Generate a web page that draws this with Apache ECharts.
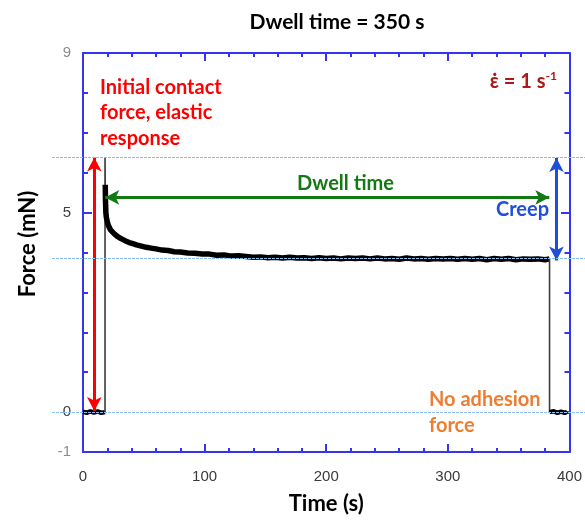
<!DOCTYPE html>
<html><head><meta charset="utf-8">
<script src="https://cdn.jsdelivr.net/npm/echarts@6/dist/echarts.min.js"></script>
<style>html,body{margin:0;padding:0;background:#fff}#c{width:585px;height:520px}</style>
</head><body><div id="c"></div>
<script>
// ---- data ----
const xTickLabels = [0, 100, 200, 300, 400];
const yTickLabels = [-1, 0, 5, 9];
const yMajorTicks = [0, 5];
const approachTime = [0, 3, 6, 9, 12, 15, 18.1];
const approachForce = [0.01, -0.02, 0.02, -0.01, 0.02, -0.02, 0.0];
const loadTime = [18.1, 18.1, 18.3];
const loadForce = [0, 6.39, 5.70];
const dwellTime = [18.3,18.5,18.8,19.2,19.8,20.6,21.6,22.8,24.2,26,28,30,32.5,35,38,41,44,48,52,56,60,65,70,75,80,86,92,98,104,110,116,122,128,134,140,146,152,158,164,170,176,182,188,194,200,206,212,218,224,230,236,242,248,254,260,266,272,278,284,290,296,302,308,314,320,326,332,338,344,350,356,362,368,374,380,383.6];
const dwellForce = [5.70,5.30,5.00,4.88,4.80,4.70,4.63,4.56,4.51,4.46,4.41,4.37,4.33,4.29,4.25,4.22,4.19,4.16,4.13,4.11,4.09,4.06,4.05,4.02,4.01,3.99,3.98,3.96,3.96,3.93,3.94,3.91,3.92,3.90,3.88,3.89,3.87,3.88,3.86,3.88,3.86,3.87,3.85,3.87,3.85,3.86,3.84,3.86,3.85,3.86,3.84,3.86,3.84,3.85,3.83,3.86,3.84,3.85,3.83,3.85,3.84,3.85,3.83,3.85,3.83,3.85,3.82,3.85,3.83,3.85,3.82,3.84,3.83,3.84,3.82,3.84];
const unloadTime = [383.6, 383.6];
const unloadForce = [3.84, 0];
const retractTime = [383.6, 387, 390, 393, 396, 398];
const retractForce = [0, 0.02, -0.02, 0.01, -0.02, 0.01];
const refLevels = [6.39, 3.85, 0];
const contactArrow = [[9.3, 6.38], [9.3, 0.03]];
const dwellArrow = [[18.3, 5.38], [383.4, 5.38]];
const creepArrow = [[389.3, 6.37], [389.3, 3.80]];

// ---- helpers ----
const zip = (a, b) => a.map((v, i) => [v, b[i]]);
const AXIS = '#3535F0';
const FONT = 'Lato, "Open Sans", sans-serif';
const LABEL_FONT = '"Liberation Sans", Arial, sans-serif';

function lineSeries(name, t, f, color, width) {
  return { name, type: 'line', data: zip(t, f), symbol: 'none', showSymbol: false,
    lineStyle: { color, width }, clip: false, animation: false, silent: true, z: 3 };
}
function arrow(pts, color) {
  return [{ coord: pts[0], lineStyle: { color, width: 3, type: 'solid' } }, { coord: pts[1] }];
}

const chart = echarts.init(document.getElementById('c'), null, { renderer: 'canvas' });

const gridRect = { left: 83, right: 15, top: 53, bottom: 67, containLabel: false };
const baseX = { type: 'value', min: 0, max: 400, interval: 100, splitLine: { show: false } };
const baseY = { type: 'value', min: -1, max: 9, interval: 1, splitLine: { show: false } };
const axisLine = { show: true, onZero: false, lineStyle: { color: AXIS, width: 2 } };
const tickStyle = { color: AXIS, width: 2 };

const option = {
  backgroundColor: '#fff',
  animation: false,
  grid: [Object.assign({}, gridRect), Object.assign({}, gridRect)],
  xAxis: [
    Object.assign({}, baseX, {
      gridIndex: 0, position: 'bottom', axisLine,
      axisTick: { inside: true, length: 8, lineStyle: tickStyle },
      minorTick: { show: true, splitNumber: 5, length: 4, lineStyle: tickStyle },
      axisLabel: { color: '#3a3a3a', fontSize: 15, fontFamily: LABEL_FONT, margin: 17,
        formatter: v => xTickLabels.includes(v) ? String(v) : '' },
      name: 'Time (s)', nameLocation: 'middle', nameGap: 41,
      nameTextStyle: { fontSize: 22, fontWeight: 'bold', color: '#000', fontFamily: FONT }
    }),
    Object.assign({}, baseX, {
      gridIndex: 0, position: 'top', axisLine,
      axisTick: { inside: true, length: 8, lineStyle: tickStyle },
      minorTick: { show: true, splitNumber: 5, length: 4, lineStyle: tickStyle },
      axisLabel: { show: false }
    }),
    Object.assign({}, baseX, {
      gridIndex: 1, position: 'bottom', axisLine: { show: false, onZero: false },
      axisTick: { show: false }, axisLabel: { show: false }
    })
  ],
  yAxis: [
    Object.assign({}, baseY, {
      gridIndex: 0, position: 'left', axisLine,
      axisTick: { inside: true, length: 5, lineStyle: tickStyle },
      axisLabel: { fontSize: 15, fontFamily: LABEL_FONT, margin: 12,
        color: v => (Number(v) === 0 || Number(v) === 5) ? '#404040' : '#8c8c8c',
        formatter: v => yTickLabels.includes(v) ? String(v) : '' }
    }),
    Object.assign({}, baseY, {
      gridIndex: 0, position: 'right', axisLine,
      axisTick: { inside: true, length: 5, lineStyle: tickStyle },
      axisLabel: { show: false }
    }),
    Object.assign({}, baseY, {
      gridIndex: 1, position: 'left', axisLine: { show: false, onZero: false },
      axisTick: { inside: true, length: 9, customValues: yMajorTicks, lineStyle: tickStyle },
      axisLabel: { show: false }
    }),
    Object.assign({}, baseY, {
      gridIndex: 1, position: 'right', axisLine: { show: false, onZero: false },
      axisTick: { inside: true, length: 9, customValues: yMajorTicks, lineStyle: tickStyle },
      axisLabel: { show: false }
    })
  ],
  series: [
    lineSeries('approach', approachTime, approachForce, '#000', 4.5),
    lineSeries('load', loadTime, loadForce, '#3c3c3c', 1.6),
    lineSeries('dwell', dwellTime, dwellForce, '#000', 5.5),
    lineSeries('unload', unloadTime, unloadForce, '#3c3c3c', 1.6),
    lineSeries('retract', retractTime, retractForce, '#000', 4.5),
    {
      name: 'arrows', type: 'line', data: [], symbol: 'none', silent: true, animation: false,
      markLine: {
        silent: true, animation: false, symbol: ['arrow', 'arrow'], symbolSize: [11, 14],
        label: { show: false }, emphasis: { disabled: true },
        data: [arrow(contactArrow, '#FF0000'), arrow(dwellArrow, '#137A13'), arrow(creepArrow, '#1F4FD8')]
      }
    }
  ]
};
chart.setOption(option);

// reference dotted lines and texts
const graphics = refLevels.map(v => {
  const y = Math.round(chart.convertToPixel({ yAxisIndex: 0 }, v)) + 0.5;
  return { type: 'line', z: 100, silent: true,
    shape: { x1: 52, y1: y, x2: 585, y2: y },
    style: { stroke: '#8cc0ee', lineWidth: 1, lineDash: [3, 1] } };
});
function txt(text, x, y, color, size, align, lineHeight) {
  const style = { text, fill: color, font: 'bold ' + size + 'px ' + FONT, fontSize: size, fontWeight: 'bold', fontFamily: FONT,
    align, textAlign: align, verticalAlign: 'middle', textVerticalAlign: 'middle' };
  if (lineHeight) style.lineHeight = lineHeight;
  return { type: 'text', x, y, z: 101, silent: true, style };
}
graphics.push(txt('Dwell time = 350 s', 337, 22, '#000', 21, 'center'));
graphics.push(txt('Initial contact\nforce, elastic\nresponse', 100, 113, '#FF0000', 20, 'left', 25.5));
graphics.push(txt('Dwell time', 345.5, 184, '#137A13', 20, 'center'));
graphics.push(txt('Creep', 496, 210, '#1F4FD8', 20, 'left'));
graphics.push(txt('No adhesion\nforce', 429, 412.5, '#ED7D31', 20, 'left', 26));
graphics.push({ type: 'text', x: 557, y: 81, z: 101, silent: true,
  style: { text: '{e|\u03B5\u0307 = 1 s}{s|-1}', align: 'right', textAlign: 'right', verticalAlign: 'middle', textVerticalAlign: 'middle',
    rich: {
      e: { fontSize: 20, fontWeight: 'bold', fontFamily: FONT, fill: '#B01818', color: '#B01818', lineHeight: 22, verticalAlign: 'bottom' },
      s: { fontSize: 12, fontWeight: 'bold', fontFamily: FONT, fill: '#B01818', color: '#B01818', lineHeight: 22, verticalAlign: 'top', padding: [0, 0, 8, 0] }
    } } });
graphics.push({ type: 'text', x: 28, y: 244, rotation: Math.PI / 2, z: 101, silent: true,
  style: { text: 'Force (mN)', fill: '#000', font: 'bold 22px ' + FONT, fontSize: 22, fontWeight: 'bold', fontFamily: FONT,
    align: 'center', textAlign: 'center', verticalAlign: 'middle', textVerticalAlign: 'middle' } });
chart.setOption({ graphic: graphics });
</script></body></html>
